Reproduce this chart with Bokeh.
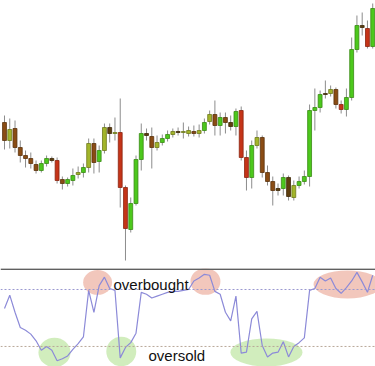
from bokeh.plotting import figure
from bokeh.models import ColumnDataSource, Range1d, Span, Label
from bokeh.layouts import column
from bokeh.embed import file_html
from bokeh.resources import INLINE

# ---- price data (arbitrary price units) ----
opens = [146, 128, 140, 121, 113, 110, 104, 98, 105, 110, 108, 89, 85, 88, 94, 96, 101, 125, 107, 118,
         141, 135, 136, 81, 39, 65, 109, 135, 132, 121, 126, 130, 134, 137, 136, 135, 137, 135, 138, 147,
         154, 143, 151, 146, 142, 158, 111, 91, 123, 131, 96, 87, 80, 80, 91, 71, 83, 87, 92, 158,
         161, 175, 175, 179, 164, 159, 171, 219, 243, 240, 222]
closes = [128, 139, 121, 113, 110, 105, 98, 105, 110, 108, 88, 85, 89, 93, 96, 101, 125, 106, 118, 141,
          135, 136, 81, 40, 65, 109, 135, 133, 121, 126, 130, 134, 137, 136, 137, 138, 135, 138, 146, 154,
          143, 151, 146, 142, 157, 111, 91, 123, 131, 96, 87, 78, 78, 91, 72, 83, 87, 92, 158, 161,
          174, 174, 179, 164, 159, 171, 219, 243, 241, 222, 260]
highs = [153, 150, 148, 128, 118, 116, 108, 108, 113, 112, 111, 92, 91, 100, 102, 105, 130, 130, 123, 145,
         145, 151, 170, 83, 71, 113, 145, 140, 141, 133, 134, 138, 140, 141, 146, 142, 143, 144, 150, 158,
         168, 156, 156, 153, 160, 162, 118, 128, 138, 133, 103, 92, 85, 95, 93, 88, 92, 98, 164, 180,
         178, 188, 183, 181, 168, 180, 231, 253, 256, 248, 265]
lows = [119, 120, 116, 106, 101, 100, 95, 96, 102, 106, 85, 79, 82, 83, 90, 91, 96, 95, 96, 115,
        126, 128, 61, 8, 36, 63, 98, 128, 100, 118, 123, 127, 131, 133, 130, 132, 132, 131, 135, 144,
        133, 133, 135, 138, 133, 108, 78, 80, 120, 91, 83, 63, 73, 73, 68, 68, 80, 84, 82, 138,
        156, 170, 172, 160, 155, 152, 168, 216, 233, 220, 220]
candle_tone = ["b", "o", "b", "b", "b", "b", "b", "g", "g", "d", "r", "b", "g", "g", "o", "g", "o", "b", "g", "o",
               "d", "o", "r", "r", "g", "g", "g", "d", "b", "o", "g", "g", "o", "d", "o", "o", "b", "o", "g", "o",
               "b", "g", "b", "d", "g", "r", "r", "g", "o", "b", "b", "b", "d", "g", "d", "o", "g", "g", "g", "g",
               "g", "d", "o", "b", "r", "g", "g", "g", "d", "r", "g"]

# ---- oscillator data (0-100) ----
oscillator = [60, 74, 56, 40, 37, 33, 26, 16, 20, 16, 5, 7, 10, 17, 23, 30, 79, 56, 84, 93,
              81, 79, 8, 19, 24, 34, 77, 75, 71, 73, 75, 77, 78, 78, 79, 80, 89, 92, 96, 95,
              78, 75, 56, 47, 73, 13, 14, 49, 57, 21, 9, 13, 14, 25, 9, 20, 24, 29, 79, 81,
              93, 89, 92, 81, 76, 82, 89, 98, 88, 77, 95]
overbought_level = 80
oversold_level = 20

idx = list(range(1, len(opens) + 1))
fill_map = {"g": "#4cc81c", "o": "#a2b52a", "b": "#8a4c14", "r": "#c53418", "d": "#5e3e0e"}
line_map = {"g": "#3a8a14", "o": "#6e7a1c", "b": "#5a320c", "r": "#8a2410", "d": "#3e2808"}

src = ColumnDataSource(dict(
    x=idx,
    top=[max(o, c) for o, c in zip(opens, closes)],
    bottom=[min(o, c) for o, c in zip(opens, closes)],
    high=highs, low=lows,
    fill=[fill_map[t] for t in candle_tone],
    line=[line_map[t] for t in candle_tone],
))

W = 375
x_range = Range1d(0.24, 71.53)

p = figure(width=W, height=268, x_range=x_range, y_range=Range1d(0, 268),
           output_backend="svg", toolbar_location=None,
           x_axis_location=None, y_axis_location=None, min_border=0)
p.grid.visible = False
p.outline_line_color = None
p.segment(x0="x", x1="x", y0="low", y1="high", source=src, line_color="#8c8c8c", line_width=1)
p.vbar(x="x", width=0.74, top="top", bottom="bottom", source=src,
       fill_color="fill", line_color="line", line_width=0.8)

q = figure(width=W, height=98, x_range=x_range, y_range=Range1d(-1.1, 102.1),
           output_backend="svg", toolbar_location=None,
           x_axis_location=None, y_axis_location=None, min_border=0)
q.grid.visible = False
q.outline_line_color = None

q.add_layout(Span(location=overbought_level, dimension="width", line_color="#9a98d0",
                  line_dash="2 2", line_width=1))
q.add_layout(Span(location=oversold_level, dimension="width", line_color="#b8a898",
                  line_dash="2 2", line_width=1))
q.add_layout(Span(location=101.4, dimension="width", line_color="#606060", line_width=1.6))

# highlight zones
q.ellipse(x=[18.7, 39.2, 66.2], y=[87.4, 88.4, 85.3], width=[5.5, 5.7, 12.9], height=[26, 28, 29.5],
          fill_color="#eeb4a6", fill_alpha=0.75, line_color=None)
q.ellipse(x=[10.5, 23.2, 50.8], y=[13.7, 14.7, 13.7], width=[6.1, 5.7, 13.7], height=[31, 31, 29.5],
          fill_color="#c6e8ac", fill_alpha=0.8, line_color=None)

q.line(idx, oscillator, line_color="#8c8ad8", line_width=1.2)

q.add_layout(Label(x=113, y=82, x_units="screen", y_units="screen", text="overbought",
                   text_font="Liberation Sans", text_font_size="15px", text_color="#111111",
                   text_baseline="alphabetic"))
q.add_layout(Label(x=148, y=6, x_units="screen", y_units="screen", text="oversold",
                   text_font="Liberation Sans", text_font_size="15px", text_color="#111111",
                   text_baseline="bottom", y_offset=-3))

layout = column(p, q, spacing=0)
open("out.html", "w").write(file_html(layout, INLINE))
